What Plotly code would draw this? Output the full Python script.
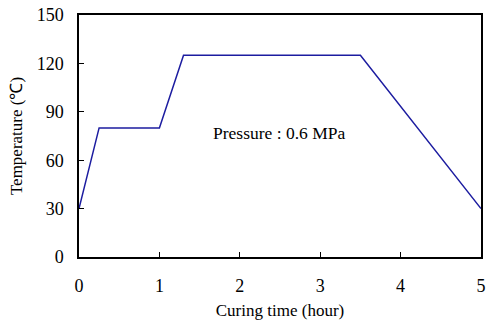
import plotly.graph_objects as go

time_h = [0, 0.25, 1.0, 1.3, 3.5, 5.0]
temp_c = [30, 80, 80, 125, 125, 30]
x_ticks = [0, 1, 2, 3, 4, 5]
y_ticks = [0, 30, 60, 90, 120, 150]

FONT = "Liberation Serif, Times New Roman, serif"

fig = go.Figure()
fig.add_trace(go.Scatter(x=time_h, y=temp_c, mode="lines",
                         line=dict(color="#1c1ca0", width=1.5),
                         showlegend=False, hoverinfo="skip"))

fig.add_annotation(x=1.64, y=77, text="Pressure : 0.6 MPa", showarrow=False,
                   xanchor="left", yanchor="middle",
                   font=dict(family=FONT, size=17.5, color="black"))

axis_common = dict(showgrid=False, zeroline=False, showline=True, linecolor="black",
                   linewidth=1.5, mirror=True, ticks="inside", ticklen=5,
                   tickcolor="black", tickwidth=1, automargin=False,
                   tickfont=dict(family=FONT, size=18, color="black"))

fig.update_xaxes(range=[0, 5], tickvals=x_ticks, ticktext=[str(v) for v in x_ticks],
                 title=dict(text="Curing time (hour)", font=dict(family=FONT, size=17, color="black"),
                            standoff=12),
                 ticklabelstandoff=12, **axis_common)
fig.update_yaxes(range=[0, 150], tickvals=y_ticks, ticktext=[str(v) for v in y_ticks],
                 title=dict(text="Temperature (℃)", font=dict(family=FONT, size=17, color="black"),
                            standoff=10),
                 ticklabelstandoff=10, **axis_common)

fig.update_layout(width=486, height=320, margin=dict(l=79, r=5, t=15, b=63),
                  paper_bgcolor="white", plot_bgcolor="white",
                  font=dict(family=FONT, color="black"))

fig.write_html("out.html")
